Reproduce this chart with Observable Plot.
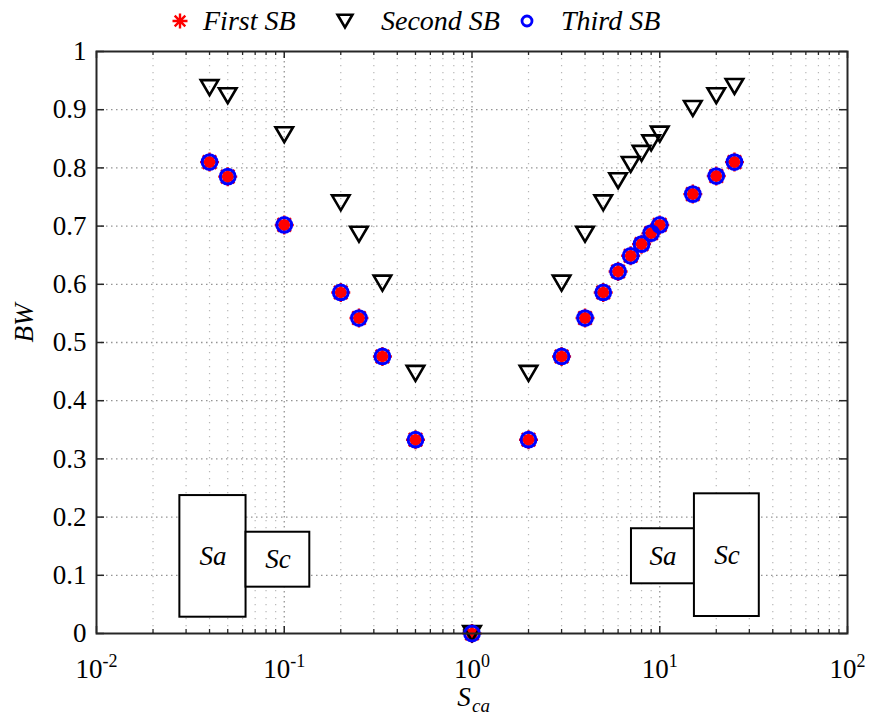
<!DOCTYPE html>
<html><head><meta charset="utf-8">
<script src="https://cdn.jsdelivr.net/npm/d3@7"></script>
<script src="https://cdn.jsdelivr.net/npm/@observablehq/plot@0.6"></script>
</head><body style="margin:0;background:#fff;">
<div id="wrap" style="width:869px;height:722px;position:relative;font-family:'Liberation Serif'">
<div id="legend" style="position:relative;width:869px;height:30px;font-family:'Liberation Serif'">
<span style="position:absolute;left:203px;top:6.5px;font-family:'Liberation Serif';font-size:28px;line-height:28px;font-style:italic;color:#000;white-space:nowrap">First SB</span>
<span style="position:absolute;left:381px;top:6.5px;font-family:'Liberation Serif';font-size:28px;line-height:28px;font-style:italic;color:#000;white-space:nowrap">Second SB</span>
<span style="position:absolute;left:561px;top:6.5px;font-family:'Liberation Serif';font-size:28px;line-height:28px;font-style:italic;color:#000;white-space:nowrap">Third SB</span>
</div>
</div>
<script>
// ---- data ----
const S = [0.04, 0.05, 0.1, 0.2, 0.25, 1/3, 0.5, 1, 2, 3, 4, 5, 6, 7, 8, 9, 10, 15, 20, 25];
const firstSB  = [0.810, 0.785, 0.702, 0.586, 0.542, 0.476, 0.333, 0, 0.333, 0.476, 0.542, 0.586, 0.622, 0.649, 0.669, 0.688, 0.702, 0.755, 0.786, 0.810];
const secondSB = [0.938, 0.924, 0.857, 0.740, 0.686, 0.602, 0.447, 0, 0.447, 0.602, 0.686, 0.740, 0.778, 0.806, 0.825, 0.843, 0.858, 0.902, 0.924, 0.940];
const thirdSB  = [0.810, 0.785, 0.702, 0.586, 0.542, 0.476, 0.333, 0, 0.333, 0.476, 0.542, 0.586, 0.622, 0.649, 0.669, 0.688, 0.702, 0.755, 0.786, 0.810];
const seriesNames = ["First SB", "Second SB", "Third SB"];
const xTicks = [0.01, 0.1, 1, 10, 100];
const xExponents = ["-2", "-1", "0", "1", "2"];
const yTicks = [0, 0.1, 0.2, 0.3, 0.4, 0.5, 0.6, 0.7, 0.8, 0.9, 1];
const yTickLabels = ["0", "0.1", "0.2", "0.3", "0.4", "0.5", "0.6", "0.7", "0.8", "0.9", "1"];
const minorMultipliers = [2, 3, 4, 5, 6, 7, 8, 9];
const boxX1 = [0.0278, 0.0626, 7.07, 15.3];
const boxX2 = [0.0626, 0.1368, 15.3, 33.9];
const boxY1 = [0.028, 0.0796, 0.0854, 0.0292];
const boxY2 = [0.237, 0.174, 0.180, 0.240];
const boxLabels = ["Sa", "Sc", "Sa", "Sc"];

// ---- tables ----
const rows = S.map((s, i) => ({s, first: firstSB[i], second: secondSB[i], third: thirdSB[i]}));
const minorTicks = xTicks.slice(0, -1).flatMap(d => minorMultipliers.map(m => d * m));
const boxes = boxLabels.map((label, i) => ({label, x1: boxX1[i], x2: boxX2[i], y1: boxY1[i], y2: boxY2[i]}));

// ---- symbols ----
const asterisk = {draw(ctx, size) {
  const r = Math.sqrt(size / Math.PI);
  for (let i = 0; i < 4; i++) {
    const a = i * Math.PI / 4;
    ctx.moveTo(-r * Math.cos(a), -r * Math.sin(a));
    ctx.lineTo(r * Math.cos(a), r * Math.sin(a));
  }
}};
const downTri = {draw(ctx, size) {
  const k = Math.sqrt(size / Math.PI);
  ctx.moveTo(-1.35 * k, -1.15 * k);
  ctx.lineTo(1.35 * k, -1.15 * k);
  ctx.lineTo(0, 1.15 * k);
  ctx.closePath();
}};

const W = 869, legendH = 30, H = 722 - legendH;
const mT = 21, mB = 89, mL = 96, mR = 22;
const plotH = H - mT - mB, plotW = W - mL - mR;
const axisColor = "#262626";
const serif = "Liberation Serif";

// ---- legend ----
const leg = d3.select("#legend");
const legX = [180, 345, 527];
const symPath = (sym, size) => { const p = d3.path(); sym.draw(p, size); return p.toString(); };
const legSyms = [
  g => g.append("path").attr("d", symPath(asterisk, Math.PI * 7.5 * 7.5)).attr("stroke", "#ff0000").attr("stroke-width", 2.4).attr("fill", "none"),
  g => g.append("path").attr("d", symPath(downTri, Math.PI * 5.5 * 5.5)).attr("stroke", "#000").attr("stroke-width", 2.6).attr("fill", "none"),
  g => g.append("circle").attr("r", 5).attr("stroke", "#0000ff").attr("stroke-width", 2.8).attr("fill", "none")
];
const legSpans = leg.selectAll("span").nodes();
seriesNames.forEach((n, i) => {
  if (legSpans[i] && legSpans[i].textContent !== n) legSpans[i].textContent = n;
  const s = leg.append("svg").attr("width", 20).attr("height", 20)
    .style("position", "absolute").style("top", "11px").style("left", (legX[i] - 10) + "px");
  legSyms[i](s.append("g").attr("transform", "translate(10,10)"));
});

// ---- plot ----
const chart = Plot.plot({
  width: W, height: H,
  marginTop: mT, marginBottom: mB, marginLeft: mL, marginRight: mR,
  style: {fontFamily: serif, background: "#fff", color: "#000"},
  x: {type: "log", domain: [0.01, 100]},
  y: {domain: [0, 1]},
  marks: [
    // grid
    Plot.ruleX(minorTicks, {x: d => d, stroke: "#999", strokeOpacity: 0.7, strokeWidth: 1.2, strokeDasharray: "1.2,5.8"}),
    Plot.ruleX(xTicks.slice(1, -1), {x: d => d, stroke: "#666", strokeOpacity: 0.7, strokeWidth: 1.3, strokeDasharray: "1.5,3.5"}),
    Plot.ruleY(yTicks.slice(1, -1), {y: d => d, stroke: "#666", strokeOpacity: 0.7, strokeWidth: 1.3, strokeDasharray: "1.5,3.5"}),
    // ticks (inward, mirrored)
    Plot.ruleX(xTicks, {x: d => d, insetTop: plotH - 7, stroke: axisColor, strokeWidth: 1.5}),
    Plot.ruleX(xTicks, {x: d => d, insetBottom: plotH - 7, stroke: axisColor, strokeWidth: 1.5}),
    Plot.ruleX(minorTicks, {x: d => d, insetTop: plotH - 4, stroke: axisColor, strokeWidth: 1.3}),
    Plot.ruleX(minorTicks, {x: d => d, insetBottom: plotH - 4, stroke: axisColor, strokeWidth: 1.3}),
    Plot.ruleY(yTicks, {y: d => d, insetRight: plotW - 8, stroke: axisColor, strokeWidth: 1.5}),
    Plot.ruleY(yTicks, {y: d => d, insetLeft: plotW - 8, stroke: axisColor, strokeWidth: 1.5}),
    // annotation boxes
    Plot.rect(boxes, {x1: "x1", x2: "x2", y1: "y1", y2: "y2", fill: "#fff", stroke: "#000", strokeWidth: 2}),
    Plot.text(boxes, {x: d => Math.sqrt(d.x1 * d.x2), y: d => (d.y1 + d.y2) / 2, text: "label",
      fontSize: 27, fontStyle: "italic", fontFamily: serif, fill: "#000"}),
    // series
    Plot.dot(rows, {x: "s", y: "first", symbol: asterisk, r: 9.5, stroke: "#ff0000", strokeWidth: 2.4, fill: "none"}),
    Plot.dot(rows, {x: "s", y: "first", r: 5.8, fill: "#ff0000", stroke: "none"}),
    Plot.dot(rows, {x: "s", y: "second", symbol: downTri, r: 6.5, stroke: "#000", strokeWidth: 2.6, fill: "none"}),
    Plot.dot(rows, {x: "s", y: "third", r: 7.4, stroke: "#0000ff", strokeWidth: 3, fill: "none"}),
    // frame
    Plot.frame({stroke: axisColor, strokeWidth: 2}),
    // axes
    Plot.axisX(xTicks, {tickSize: 0, tickPadding: 25, fontSize: 27, tickFormat: () => "10", fill: "#000"}),
    Plot.axisY(yTicks, {tickSize: 0, tickPadding: 10, fontSize: 27, tickFormat: (d, i) => yTickLabels[yTicks.indexOf(d)], fill: "#000"}),
    // axis labels
    Plot.text(["BW"], {frameAnchor: "left", dx: -72, rotate: -90, fontSize: 27, fontStyle: "italic", fontFamily: serif, fill: "#000"}),
    Plot.text(["S"], {frameAnchor: "bottom", dx: -8, dy: 72, fontSize: 27, fontStyle: "italic", fontFamily: serif, fill: "#000"}),
    Plot.text(["ca"], {frameAnchor: "bottom", dx: 9, dy: 78, fontSize: 19, fontStyle: "italic", fontFamily: serif, fill: "#000"})
  ]
});
document.getElementById("wrap").appendChild(chart);

// make every text use the serif family directly (inline style)
chart.setAttribute("font-family", serif);
chart.querySelectorAll("text").forEach(t => {
  t.setAttribute("font-family", serif);
  t.style.fontFamily = "'Liberation Serif'";
});

// superscript exponents on the x tick labels
const xLabels = chart.querySelectorAll('[aria-label="x-axis tick label"] text');
xLabels.forEach((t, i) => {
  const sup = document.createElementNS("http://www.w3.org/2000/svg", "tspan");
  sup.setAttribute("dy", "-11");
  sup.setAttribute("font-size", "18");
  sup.textContent = xExponents[i];
  t.appendChild(sup);
});
</script></body></html>
